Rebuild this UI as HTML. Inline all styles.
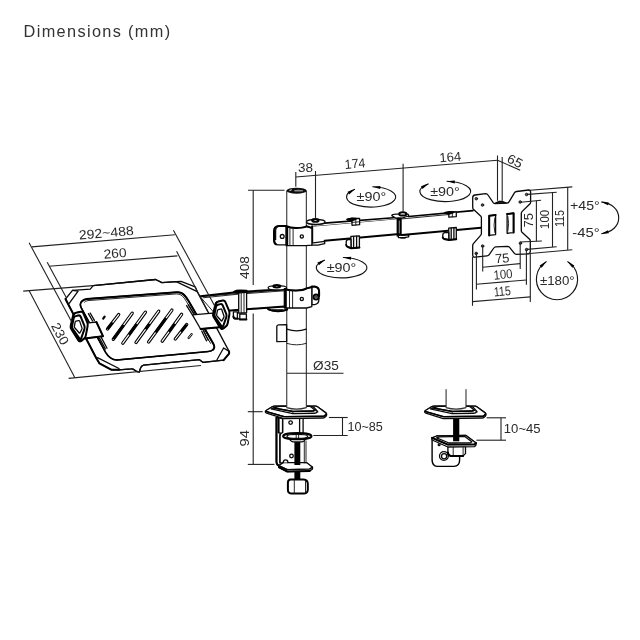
<!DOCTYPE html>
<html lang="en">
<head>
<meta charset="utf-8">
<title>Dimensions (mm)</title>
<style>
html,body{margin:0;padding:0;background:#fff;}
body{width:640px;height:640px;overflow:hidden;font-family:"Liberation Sans",sans-serif;}
svg{display:block;position:absolute;left:0;top:0;}
.d{stroke:#222;stroke-width:1.1;fill:none;}
.t{stroke:#111;stroke-width:.9;fill:none;stroke-linejoin:round;stroke-linecap:round;}
.m{stroke:#0a0a0a;stroke-width:1.3;fill:none;stroke-linejoin:round;stroke-linecap:round;}
.k{stroke:#000;stroke-width:2;fill:none;stroke-linejoin:round;stroke-linecap:round;}
.a{stroke:#151515;stroke-width:1.15;fill:none;}
.w{fill:#fff;}
.b{fill:#000;stroke:none;}
.tx{font-family:"Liberation Sans",sans-serif;fill:#2a2a2a;stroke:none;}
</style>
</head>
<body>
<svg width="640" height="640" viewBox="0 0 640 640" style="filter:grayscale(1)">
<text x="23.6" y="37" font-size="16.3" fill="#333" font-family="Liberation Sans, sans-serif" textLength="146.5" lengthAdjust="spacing">Dimensions (mm)</text>
<g id="clampL">
<path class="m w" d="M276.2,417.4 V462 Q276.4,465.2 279,465.6 L287.3,469.6 L309.6,469 L312.5,467.2 L306.6,463.1 H283.4 L279.9,462.6 V436 Q280.2,433.4 282.6,432.4 V418.6 Z" />
<path class="k" d="M276.6,417.8 V462 Q276.8,465 279,465.6" />
<path class="k" d="M278.6,418.2 V432.5" />
<path class="m" d="M279.9,432.5 V463" />
<path class="m" d="M282.6,418.8 V432.6" />
<path class="m w" d="M278.6,465.6 L283.2,462.6 H306.6 L312.5,467.2 L309.6,469.1 L287.3,469.7 Z" />
<path class="m w" d="M278.6,465.6 L287.3,469.7 L309.6,469.1 L312.5,467.2 V469 L309.6,471.2 L287.3,471.6 L278.6,467.4 Z" />
<path class="k" d="M279,467 L287.3,471.5 L309.6,471.1" />
<path class="m w" d="M283.2,462.6 Q283.4,459.9 285.6,459.9 Q287.8,459.9 288,462.6" />
<circle class="m w" cx="290.6" cy="422.6" r="1.8"/>
<circle class="m w" cx="291.5" cy="456" r="1.8"/>
<path class="m" d="M299.6,418.8 V432.6 M303.1,418.8 V432.6" />
<path class="t" d="M304.3,441 V463 M306,441 V463" />
<path class="b" d="M294.4,440.5 H300.3 V465 H294.4 Z" />
<path class="b" d="M294.4,471.4 H300.3 V480 H294.4 Z" />
<path class="m w" d="M289,437 Q289.4,441 293,441.9 H302 Q305.6,441 306,437 Z" />
<ellipse class="k w" cx="297.3" cy="436.2" rx="14.2" ry="3.1"/>
<ellipse class="m" cx="297.3" cy="436.4" rx="10.4" ry="2"/>
<path class="t" d="M296.2,434.6 V438.2 M298.6,434.6 V438.2" />
<path class="k w" d="M290.6,479.6 H303.6 Q307.8,480 307.8,484 V489.8 Q307.6,493.6 303.6,493.6 H291 Q287.9,493.4 287.9,489.6 V482.6 Q288,479.8 290.6,479.6 Z" />
<path class="t" d="M294.3,480 V493.4 M305.5,480.4 V493" />
<path class="m w" d="M266.22,410.56 Q265.20,411.20 265.30,412.00 L265.30,412.00 Q265.40,412.80 266.55,413.16 L283.15,418.34 Q284.30,418.70 285.50,418.68 L322.80,418.02 Q324.00,418.00 324.88,417.19 L325.72,416.41 Q326.60,415.60 326.70,414.60 L326.70,414.60 Q326.80,413.60 325.84,412.88 L317.86,406.92 Q316.90,406.20 315.70,406.20 L274.40,406.20 Q273.20,406.20 272.18,406.84 Z" />
<path class="m w" d="M266.74,411.55 Q265.20,411.10 266.56,410.26 L271.84,407.04 Q273.20,406.20 274.80,406.20 L315.30,406.20 Q316.90,406.20 318.18,407.16 L325.52,412.64 Q326.80,413.60 325.63,414.69 L325.17,415.11 Q324.00,416.20 322.40,416.22 L285.90,416.68 Q284.30,416.70 282.76,416.25 Z" />
<polyline class="k" style="stroke-width:1.5" points="265.60,411.40 284.30,416.70 324.00,416.20 326.40,414.00"/>
<path class="m w" d="M272.17,409.16 Q271.00,408.90 272.12,408.46 L275.48,407.14 Q276.60,406.70 277.80,406.70 L312.00,406.70 Q313.20,406.70 314.02,407.57 L317.18,410.93 Q318.00,411.80 316.94,412.37 L316.46,412.63 Q315.40,413.20 314.20,413.23 L294.10,413.67 Q292.90,413.70 291.73,413.44 Z" />
<path class="m w" d="M275.28,408.31 Q274.10,408.10 275.22,407.66 L277.28,406.84 Q278.40,406.40 279.60,406.40 L309.40,406.40 Q310.60,406.40 311.49,407.21 L314.11,409.59 Q315.00,410.40 314.00,410.70 L314.00,410.70 Q313.00,411.00 311.80,411.02 L294.10,411.38 Q292.90,411.40 291.72,411.19 Z" />
<polyline class="k" style="stroke-width:1.5" points="274.10,408.10 292.90,411.40 313.00,411.00 315.00,410.40"/>
<path class="t" d="M292.9,411.4 V413.7 M315,410.4 L318,411.8 M274.1,408.1 L271,408.9"/>
</g>
<g id="clampR">
<path class="k w" d="M432.1,438 V460.4 Q432.4,466 437,466.4 H454 Q459.4,466 459.6,460.4 V446 L447.9,444.2 Z" style="stroke-width:1.4"/>
<circle class="m w" cx="443.9" cy="456" r="4.4"/>
<circle class="m w" cx="444.1" cy="456.2" r="2.6"/>
<circle class="m" cx="439.1" cy="444.8" r="0.9"/>
<path class="m w" d="M447.9,446.4 H465.5 V453.6 L463.1,455.9 H450.6 Q448,455.4 447.9,452.6 Z" />
<path class="t" d="M453.2,446.6 V455.8 M463.1,446.6 V455.8" />
<path class="k" d="M447.9,452.4 Q448,455.6 450.8,456 H463.1" />
<path class="m w" d="M432.1,437.8 L436.7,436 L466,435.4 L476,443 V445 L474.6,446.6 L447.9,447 L432.1,440 Z" />
<path class="m w" d="M432.1,437.8 L436.7,436 L466,435.4 L476,443 L474.6,444.4 L447.9,444.6 Z" />
<path class="k" d="M432.1,437.8 L447.9,444.6 L474.6,444.4 L476,443" />
<path class="m" d="M436.6,437.8 L439.4,436.8 L464.8,436.4 L471.8,441.8 L470.6,442.8 L449,443 Z" />
<path class="b" d="M453.1,418.6 H459.3 V441.3 H453.1 Z" />
<path class="m w" d="M425.52,410.56 Q424.50,411.20 424.60,412.00 L424.60,412.00 Q424.70,412.80 425.85,413.16 L442.45,418.34 Q443.60,418.70 444.80,418.68 L482.10,418.02 Q483.30,418.00 484.18,417.19 L485.02,416.41 Q485.90,415.60 486.00,414.60 L486.00,414.60 Q486.10,413.60 485.14,412.88 L477.16,406.92 Q476.20,406.20 475.00,406.20 L433.70,406.20 Q432.50,406.20 431.48,406.84 Z" />
<path class="m w" d="M426.04,411.55 Q424.50,411.10 425.86,410.26 L431.14,407.04 Q432.50,406.20 434.10,406.20 L474.60,406.20 Q476.20,406.20 477.48,407.16 L484.82,412.64 Q486.10,413.60 484.93,414.69 L484.47,415.11 Q483.30,416.20 481.70,416.22 L445.20,416.68 Q443.60,416.70 442.06,416.25 Z" />
<polyline class="k" style="stroke-width:1.5" points="424.90,411.40 443.60,416.70 483.30,416.20 485.70,414.00"/>
<path class="m w" d="M431.47,409.16 Q430.30,408.90 431.42,408.46 L434.78,407.14 Q435.90,406.70 437.10,406.70 L471.30,406.70 Q472.50,406.70 473.32,407.57 L476.48,410.93 Q477.30,411.80 476.24,412.37 L475.76,412.63 Q474.70,413.20 473.50,413.23 L453.40,413.67 Q452.20,413.70 451.03,413.44 Z" />
<path class="m w" d="M434.58,408.31 Q433.40,408.10 434.52,407.66 L436.58,406.84 Q437.70,406.40 438.90,406.40 L468.70,406.40 Q469.90,406.40 470.79,407.21 L473.41,409.59 Q474.30,410.40 473.30,410.70 L473.30,410.70 Q472.30,411.00 471.10,411.02 L453.40,411.38 Q452.20,411.40 451.02,411.19 Z" />
<polyline class="k" style="stroke-width:1.5" points="433.40,408.10 452.20,411.40 472.30,411.00 474.30,410.40"/>
<path class="t" d="M452.2,411.4 V413.7 M474.3,410.4 L477.3,411.8 M433.40000000000003,408.1 L430.3,408.9"/>
<path class="w" d="M446.1,389.5 V407.6 Q456,410.6 466,407.6 V389.5" style="stroke:none"/>
<path class="m" d="M446.1,389.5 V407.6 Q456,410.6 466,407.6 V389.5" style="stroke:#333;stroke-width:1.1"/>
</g>
<g id="pole">
<path class="w" d="M286.75,190.8 V407.6 Q296.5,410.6 306.35,407.6 V190.8 Z" style="stroke:none"/>
<path class="m" d="M286.75,190.8 V407.6 Q296.5,410.6 306.35,407.6 V190.8" style="stroke:#333;stroke-width:1.1"/>
<ellipse cx="296.6" cy="190.7" rx="10" ry="3" fill="#0c0c0c"/>
<ellipse cx="298.6" cy="190.7" rx="4.6" ry="0.9" fill="#8a8a8a"/>
<ellipse cx="290.6" cy="190.1" rx="1.5" ry="0.6" fill="#bbb" transform="rotate(-20 290.6 190.1)"/>
</g>
<g id="pclip">
<path class="m w" d="M276.8,326.6 Q276.8,325 278.6,324.9 L286.6,324.6 V341.4 L276.8,341.6 Z" />
<path class="m" d="M286.9,329.2 Q296.5,332.4 306.2,329.2" />
<path class="t" d="M286.9,343.4 Q296.5,346.4 306.2,343.4" />
</g>
<g id="larm">
<ellipse class="m w" cx="277.6" cy="308.6" rx="9.8" ry="2.5"/>
<path class="k" d="M268.2,309.2 Q272,311.3 278,311.2 Q284,311.1 287.2,309.6" />
<path class="t" d="M272,309.6 H283" />
<path class="t w" d="M200.5,296.6 L284.4,289.6 V306.6 L227.8,310.7 L214,312 Z" />
<path class="k" d="M200.5,296.2 L238,292 L284.4,289.3" />
<path class="t" d="M203,297.8 L238,294.2 L284.4,290.8" />
<path class="k" d="M227.8,310.7 L284.4,306.5" />
<path class="m w" d="M238.7,291.7 L246.6,291.1 V312.6 L238.7,313.2 Z" />
<path class="k" d="M234,291.9 Q236,290.6 240,290.6 L246.6,290.7 L246.6,291.9 L238.7,292.5 Z" />
<path class="t" d="M241.2,292.3 V313 M244,292.1 V312.8" />
<path class="m w" d="M233.4,311.8 H237.4 V318.4 H235 Q233.4,318.2 233.4,316.4 Z" />
<path class="m w" d="M239.8,314 H246.4 V319.4 H239.8 Z" />
<path class="k" d="M233.4,316.4 Q233.5,318.6 235.6,318.7 H238 M239.8,319.5 H246.4" />
</g>
<g id="tray">
<path class="m w" d="M65.5,299 L72.5,290.3 L90.3,289.2 L93.1,285.6 L155.6,279.5 L161.9,282.6 L176.2,281.7 L197.2,291.6 L229.1,351.4 V353.6 L223.6,360.2 L202.8,362.3 L199.5,359.7 L143.6,365.1 Q141.2,365.6 140.4,368.4 L139.4,372 Q136,371.6 134.4,370 Q133,368.7 131.2,368.9 L119,369.8 H111.6 L99.4,363.3 L96.2,358 Z" />
<path class="k" d="M65.5,299 L96.2,358 L99.4,363.3 L111.6,369.8 L119,369.8" />
<path class="m" d="M93.1,285.6 L155.6,279.5 L161.9,282.6 L176.2,281.7" />
<path class="m" d="M72.5,290.3 L78.1,291.1 L69.2,303.3" />
<path class="m" d="M97.5,357.7 L119,368.5" />
<path class="m" d="M119,369.8 L131.2,368.9 Q133,368.7 134.4,370 Q136,371.6 139.4,372 L140.4,368.4 Q141.2,365.6 143.6,365.1 L199.5,359.7 L202.8,362.3 L223.6,360.2" />
<path class="m" d="M176.2,281.7 L181,281.4 L195.2,286.8 L197.2,291.6" />
<path class="m" d="M223.6,348 L217,359.8 M229.1,351.4 L223.6,348" />
<path class="k" d="M223.6,360.2 L229.1,353.6 V351.4" />
<path class="m w" d="M86.6,299 L177,292.2 Q181.4,292 184.2,295 Q186.6,297.6 188.6,301 L213.2,343.6 Q215.4,347.6 213.2,349.6 Q211.6,351.3 208,351.6 L117,360 Q113.6,360.2 110.4,357.8 Q107.6,355.8 105.6,352.4 L81,307.4 Q79.4,304 81.6,301.6 Q83.4,299.4 86.6,299 Z" />
<path class="k" d="M81.6,301.6 Q83.4,299.4 86.6,299 L177,292.2 Q181.4,292 184.2,295 Q186.6,297.6 188.6,301 L213.2,343.6 Q215.4,347.6 213.2,349.6" />
<path class="t" d="M84.4,302.2 Q85.4,300.8 88,300.6 L176.6,293.9 Q180.4,293.8 182.6,296.2 Q184.8,298.6 186.6,301.8 L210.6,343.4" />
<path class="k" d="M213.2,349.6 Q211.6,351.3 208,351.6 L117,360 Q113.6,360.2 110.4,357.8 Q107.6,355.8 105.6,352.4 L81,307.4 Q79.4,304 81.6,301.6" style="stroke-width:1.5"/>
<line x1="107.5" y1="329" x2="118.7" y2="314.6" stroke="#000" stroke-width="3.3" stroke-linecap="round"/>
<line x1="107.5" y1="329" x2="118.7" y2="314.6" stroke="#fff" stroke-width="1.2" stroke-linecap="round"/>
<line x1="107.50" y1="329.00" x2="112.54" y2="322.52" stroke="#000" stroke-width="2.6"/>
<line x1="113.3" y1="339.3" x2="132.2" y2="313.2" stroke="#000" stroke-width="3.3" stroke-linecap="round"/>
<line x1="113.3" y1="339.3" x2="132.2" y2="313.2" stroke="#fff" stroke-width="1.2" stroke-linecap="round"/>
<line x1="113.30" y1="339.30" x2="123.69" y2="324.94" stroke="#000" stroke-width="2.6"/>
<line x1="122.8" y1="343.2" x2="145.4" y2="312.2" stroke="#000" stroke-width="3.3" stroke-linecap="round"/>
<line x1="122.8" y1="343.2" x2="145.4" y2="312.2" stroke="#fff" stroke-width="1.2" stroke-linecap="round"/>
<line x1="128.90" y1="334.83" x2="136.81" y2="323.98" stroke="#000" stroke-width="2.6"/>
<line x1="136" y1="342.5" x2="158.7" y2="311.2" stroke="#000" stroke-width="3.3" stroke-linecap="round"/>
<line x1="136" y1="342.5" x2="158.7" y2="311.2" stroke="#fff" stroke-width="1.2" stroke-linecap="round"/>
<line x1="145.53" y1="329.35" x2="149.62" y2="323.72" stroke="#000" stroke-width="2.6"/>
<line x1="148.6" y1="342" x2="171.9" y2="310.1" stroke="#000" stroke-width="3.3" stroke-linecap="round"/>
<line x1="148.6" y1="342" x2="171.9" y2="310.1" stroke="#fff" stroke-width="1.2" stroke-linecap="round"/>
<line x1="155.59" y1="332.43" x2="166.07" y2="318.08" stroke="#000" stroke-width="2.6"/>
<line x1="162.2" y1="341.2" x2="181.6" y2="314.3" stroke="#000" stroke-width="3.3" stroke-linecap="round"/>
<line x1="162.2" y1="341.2" x2="181.6" y2="314.3" stroke="#fff" stroke-width="1.2" stroke-linecap="round"/>
<line x1="168.99" y1="331.78" x2="174.81" y2="323.72" stroke="#000" stroke-width="2.6"/>
<line x1="175.3" y1="339" x2="186.7" y2="324.5" stroke="#000" stroke-width="3.3" stroke-linecap="round"/>
<line x1="175.3" y1="339" x2="186.7" y2="324.5" stroke="#fff" stroke-width="1.2" stroke-linecap="round"/>
<line x1="181.00" y1="331.75" x2="186.70" y2="324.50" stroke="#000" stroke-width="2.6"/>
<line x1="103.2" y1="318.6" x2="104.6" y2="316.6" stroke="#000" stroke-width="2.2" stroke-linecap="round"/>
<line x1="188.6" y1="338" x2="191.6" y2="334.2" stroke="#000" stroke-width="2.2" stroke-linecap="round"/>
<line x1="188.6" y1="338" x2="191.6" y2="334.2" stroke="#fff" stroke-width="0.8" stroke-linecap="round"/>
<path class="m" d="M186.6,305.6 L192.6,315.2 M188.4,304.8 L194.4,314.4" />
<path class="m" d="M201.8,331.2 L206.4,340.8 M203.6,330.6 L208.2,340.2" />
<path class="m" d="M88.4,313.6 L92.6,321 M90.2,313 L94.4,320.4" />
<path class="m" d="M99.6,338.4 L105.4,349 M101.4,337.6 L107,348.2" />
<path class="m w" d="M192.4,314.8 L212.7,313.1 L219.2,327.3 L200.6,329 Z" />
<path class="k" d="M200.6,329 L219.2,327.3" />
<path class="m w" d="M86.4,323.1 L96.4,322 L103,336.2 L84.8,338.4 Z" />
<path class="k" d="M84.8,338.4 L103,336.2 L96.4,322" />
<path class="k w" d="M73.05,315.65 Q73.50,313.70 75.46,313.28 L79.94,312.32 Q81.90,311.90 82.68,313.74 L86.52,322.86 Q87.30,324.70 86.92,326.66 L85.08,336.14 Q84.70,338.10 83.11,339.32 L81.09,340.88 Q79.50,342.10 78.43,340.41 L71.37,329.19 Q70.30,327.50 70.75,325.55 Z" />
<path class="k w" d="M73.75,315.15 Q74.20,313.20 76.16,312.78 L80.64,311.82 Q82.60,311.40 83.38,313.24 L87.22,322.36 Q88.00,324.20 87.62,326.16 L85.78,335.64 Q85.40,337.60 83.81,338.82 L81.79,340.38 Q80.20,341.60 79.13,339.91 L72.07,328.69 Q71.00,327.00 71.45,325.05 Z" />
<path class="k" d="M73.65,318.37 Q74.00,316.60 75.74,316.14 L78.26,315.46 Q80.00,315.00 80.67,316.67 L84.33,325.73 Q85.00,327.40 84.41,329.10 L81.19,338.30 Q80.60,340.00 79.56,338.53 L72.84,329.07 Q71.80,327.60 72.15,325.83 Z" />
<path class="m" d="M75.15,322.19 Q75.30,321.40 76.08,321.21 L78.62,320.59 Q79.40,320.40 79.66,321.16 L81.94,327.84 Q82.20,328.60 81.82,329.30 L79.98,332.70 Q79.60,333.40 79.07,332.80 L74.73,327.80 Q74.20,327.20 74.35,326.41 Z" />
<path class="k w" d="M215.40,304.28 Q215.84,302.41 217.71,302.01 L222.02,301.08 Q223.90,300.68 224.65,302.45 L228.34,311.20 Q229.08,312.97 228.72,314.85 L226.95,323.95 Q226.59,325.83 225.07,327.00 L223.12,328.50 Q221.60,329.67 220.57,328.05 L213.79,317.28 Q212.76,315.66 213.20,313.79 Z" />
<path class="k w" d="M216.07,303.80 Q216.51,301.93 218.39,301.53 L222.69,300.60 Q224.57,300.20 225.32,301.97 L229.01,310.72 Q229.76,312.49 229.39,314.37 L227.63,323.47 Q227.26,325.35 225.74,326.52 L223.79,328.02 Q222.27,329.19 221.24,327.57 L214.46,316.80 Q213.44,315.18 213.87,313.31 Z" />
<path class="k" d="M215.98,306.89 Q216.32,305.19 217.99,304.75 L220.41,304.10 Q222.08,303.66 222.72,305.26 L226.23,313.96 Q226.88,315.56 226.31,317.19 L223.22,326.02 Q222.65,327.66 221.65,326.25 L215.20,317.16 Q214.20,315.75 214.54,314.06 Z" />
<path class="m" d="M217.42,310.55 Q217.56,309.80 218.31,309.62 L220.75,309.02 Q221.50,308.84 221.75,309.57 L223.94,315.99 Q224.19,316.71 223.82,317.39 L222.06,320.64 Q221.69,321.32 221.19,320.74 L217.01,315.95 Q216.51,315.37 216.65,314.61 Z" />
</g>
<g id="lcollar">
<path class="m w" d="M311.8,286.8 H314.6 Q318.9,287.4 318.9,291.6 V299.6 Q318.9,304 314.6,304.6 H311.8 Z" />
<path class="k" d="M311.8,286.6 H314.8 Q319.1,287.2 319.1,291.6 V296" />
<circle class="k w" cx="316.1" cy="296.9" r="2.5"/>
<circle class="t" cx="316.1" cy="296.9" r="0.9"/>
<ellipse class="m w" cx="277.3" cy="287.8" rx="9.2" ry="2.2"/>
<ellipse class="k w" cx="276.8" cy="286.2" rx="3.4" ry="1.2"/>
<path class="m w" d="M284.4,289.2 Q289,290.6 296,290.6 Q303,290.4 306.6,288.6 L311.8,287.2 V306.6 L306.6,308 H284.4 Z" />
<path class="k" d="M284.6,289 Q289,290.6 296,290.6 Q303,290.4 306.6,288.4 L311.8,287" />
<path class="k" d="M285.8,289.8 V307.6" />
<path class="t" d="M289.5,290.4 V308 M292.6,290.6 V308" />
<circle class="m w" cx="301.8" cy="298.9" r="1.6"/>
</g>
<g id="uarm">
<path class="w" d="M313.9,226.1 L396.6,218.8 V234.2 L324.7,240.8 L313.9,243 Z" style="stroke:none"/>
<path class="t" d="M313.9,226.1 L396.6,218.8" />
<path class="w" d="M324.5,223.2 L396.6,217.5 L396.6,218.8 L313.9,226.1 Z" style="stroke:none"/>
<path class="k" d="M324.5,223.2 L396.6,217.5" style="stroke-width:1.7"/>
<path class="k" d="M324.7,240.8 L396.6,234.2" />
<path class="k" d="M312.2,226.2 V243" />
<ellipse class="m w" cx="315.8" cy="221.9" rx="9.3" ry="2.6"/>
<ellipse class="k w" cx="315.4" cy="220.4" rx="3.2" ry="1.3"/>
<path class="m w" d="M311.6,243.2 L324.7,241.3 V243.6 L318,245.2 H311.6 Z" />
<path class="m w" d="M347,219.4 L351.6,218.4 L359.6,218.5 V224.7 L352,225.3 V220.6 Z" />
<path class="k" d="M347.4,219.4 L351.8,218.6 L356,218.8 L352.2,220.4 Z" />
<path class="t" d="M352,222.4 L359.6,221.8 M355.8,220 V224.9" />
<path class="m w" d="M350.9,236.4 L359.4,235.8 V247.6 L351.2,248.3 Z" />
<path class="m w" d="M350.9,239.5 H348.2 Q346.2,239.8 346.2,242 V245 Q346.4,246.6 348.5,247 L351,247.8 Z" />
<path class="m" d="M353.6,236.4 V248 M356.6,236.2 V247.8" />
<path class="k" d="M346.2,245 Q346.4,246.8 348.5,247.2 L351.2,248.3 L359.4,247.6" />
<path class="m w" d="M391.8,215.6 Q392,214.2 396,214.2 H408 Q409,215.2 408.6,216.2 L402,218.2 H396 Z" />
<ellipse class="k w" cx="402.8" cy="213.9" rx="3.6" ry="1.6"/>
<path class="b" d="M396.6,217.6 H401.8 V236.6 H396.6 Z" />
<path class="t" d="M399.3,221 V233" style="stroke:#fff;stroke-width:.6"/>
<path class="m w" d="M398.4,235.4 L408.7,234.6 V236.8 L404,237.6 H398.4 Z" />
<path class="b" d="M400.5,237.6 H405.6 V238.6 H400.5 Z" />
<path class="w" d="M401.9,218.9 L473,212.4 V227.8 L401.9,234.9 Z" style="stroke:none"/>
<path class="w" d="M408.7,216.5 L473,210.7 V212.4 L401.9,218.9 Z" style="stroke:none"/>
<path class="t" d="M401.9,218.9 L450,214.4" />
<path class="k" d="M408.7,216.5 L473,210.7" style="stroke-width:1.7"/>
<path class="k" d="M401.9,234.9 L481,227.7" />
<path class="m w" d="M445,212.8 L449.6,211.9 L456.3,212 V216.6 L448.8,217.2 V213.8 Z" />
<path class="k" d="M445.4,212.8 L449.8,212.1 L453.4,212.3 L449,213.7 Z" />
<path class="t" d="M452.3,213.4 V216.8" />
<path class="m w" d="M448.7,228.1 L456.3,227.5 V239.2 L448.9,239.8 Z" />
<path class="m w" d="M448.7,232.6 H445 Q442.8,232.9 442.8,235 V237.4 Q443,238.8 445,239 L448.8,239.6 Z" />
<path class="m" d="M451.2,228 V239.5 M453.9,227.8 V239.3" />
<path class="k" d="M442.8,237.4 Q443,239 445,239.2 L448.9,239.9 L456.3,239.2" />
</g>
<g id="ucollar" transform="translate(0 0.7)">
<path class="m w" d="M286.2,225.6 H278.6 Q274.4,226 274.4,230.5 V239.5 Q274.4,243.9 278.6,244.2 H286.2 Z" />
<path class="k" d="M286,225.4 H278.2 Q274,226 274,230.5 V239.5 Q274,242.6 276,243.6" />
<path class="m" d="M279.6,225.2 Q275.6,225.6 275.6,230 V239" />
<circle class="m w" cx="282.2" cy="235.7" r="1.9"/>
<path class="m w" d="M286.2,225.6 Q290,227.2 296,227.2 Q303,227.2 306.5,225.8 L311.9,227.4 V244.4 L306,245 H286.2 Z" />
<path class="k" d="M286.4,225.4 Q290,227.2 296,227.2 Q303,227.2 306.5,225.6 L311.9,227.2" />
<path class="k" d="M287.2,226.4 V244.4" />
<path class="t" d="M289.9,227 V244.8 M293.1,227.4 V244.8" />
<circle class="m w" cx="301.8" cy="235.7" r="1.6"/>
</g>
<g id="vesa">
<path class="m w" d="M472.7,197.8 Q472.7,195.3 475,195 L485.6,193.6 Q487.3,193.6 488,195 L493.2,202.6 Q494,203.7 495.4,203.6 L507,203 Q508.3,203 509,201.8 L514.4,192.8 Q515.2,191.7 516.6,191.5 L528.6,190 Q530.6,190 530.6,192 V202.2 Q530.6,203.2 529.8,204 L522,211.6 Q521.3,212.3 521.3,213.4 V230.4 Q521.3,231.5 522,232.2 L529.6,239.2 Q530.3,240 530.3,241 V251.6 Q530.3,253.6 528.4,253.8 L516.4,254.4 Q515,254.4 514.2,253.2 L509.6,247.4 Q508.8,246.3 507.4,246.3 L495.8,246.8 Q494.5,246.9 493.8,248 L489.2,254.6 Q488.4,255.8 487,255.9 L475,257.2 Q472.7,257.3 472.7,255 V245.6 Q472.7,244.4 473.4,243.6 L480.6,235.4 Q481.4,234.6 481.4,233.4 V217.8 Q481.4,216.7 480.6,215.9 L473.4,209.2 Q472.7,208.5 472.7,207.4 Z" />
<circle cx="476.3" cy="198.7" r="1.3" class="m" style="fill:#555;stroke-width:.8"/>
<circle cx="482.5" cy="205" r="1.3" class="m" style="fill:#555;stroke-width:.8"/>
<circle cx="526.6" cy="194.5" r="1.3" class="m" style="fill:#555;stroke-width:.8"/>
<circle cx="520.2" cy="202" r="1.3" class="m" style="fill:#555;stroke-width:.8"/>
<circle cx="482.6" cy="246.1" r="1.3" class="m" style="fill:#555;stroke-width:.8"/>
<circle cx="520.4" cy="243.2" r="1.3" class="m" style="fill:#555;stroke-width:.8"/>
<circle cx="526.6" cy="249.6" r="1.3" class="m" style="fill:#555;stroke-width:.8"/>
<circle cx="476.2" cy="253.4" r="1.3" class="m" style="fill:#555;stroke-width:.8"/>
<path class="m w" d="M489.2,215.8 L495.6,214.9 V234.6 L489.2,235.4 Z" />
<path class="m w" d="M507.1,214 L513.6,213.2 V232.6 L507.1,233.3 Z" />
<path class="k" d="M489.2,215.8 L495.6,214.9 M489.2,215.8 V235.4" />
<path class="k" d="M513.6,213.2 V232.6 M507.1,214 L513.6,213.2" />
<path class="t" d="M494.8,218 Q493.2,225 494.8,232.5" />
<path class="t" d="M507.9,216.5 Q509.4,223.5 507.9,231" />
<path class="m" d="M495.4,203.2 L498.8,201.5 L502.6,201.5 L505.6,202.9 Z" style="fill:#555"/>
</g>
<g id="dims-tray">
<line class="d" x1="29.1" y1="242.8" x2="71.5" y2="321.5"/>
<line class="d" x1="173.4" y1="230.2" x2="215" y2="306.5"/>
<line class="d" x1="31.9" y1="246.9" x2="174.9" y2="234.8"/>
<text class="tx" transform="translate(106.2 232.6) rotate(-4.8)" x="0" y="4.65" font-size="13.0" text-anchor="middle" textLength="55" lengthAdjust="spacingAndGlyphs">292~488</text>
<line class="d" x1="47.2" y1="262.2" x2="66.5" y2="298"/>
<line class="d" x1="176.6" y1="251.3" x2="207.5" y2="311"/>
<line class="d" x1="49" y1="266.2" x2="177.4" y2="255.9"/>
<text class="tx" transform="translate(115 253.1) rotate(-4.6)" x="0" y="4.65" font-size="13.0" text-anchor="middle" textLength="23" lengthAdjust="spacingAndGlyphs">260</text>
<line class="d" x1="23.2" y1="291.1" x2="93" y2="285.6"/>
<line class="d" x1="29.3" y1="291" x2="74.9" y2="377.8"/>
<line class="d" x1="68.6" y1="378.4" x2="201" y2="365.5"/>
<text class="tx" transform="translate(60.2 333.6) rotate(62)" x="0" y="4.65" font-size="13.0" text-anchor="middle" textLength="23" lengthAdjust="spacingAndGlyphs">230</text>
</g>
<g id="dims-pole">
<line class="d" x1="248" y1="190.3" x2="284.5" y2="190.3"/>
<line class="d" x1="253.2" y1="190.3" x2="253.2" y2="285"/>
<line class="d" x1="253.2" y1="313.6" x2="253.2" y2="464.4"/>
<line class="d" x1="247.8" y1="411.7" x2="262.7" y2="411.7"/>
<line class="d" x1="247.8" y1="464.4" x2="274.4" y2="464.4"/>
<text class="tx" transform="translate(244.8 267.5) rotate(-90)" x="0" y="4.65" font-size="13.0" text-anchor="middle" textLength="23" lengthAdjust="spacingAndGlyphs">408</text>
<text class="tx" transform="translate(244.5 438.2) rotate(-90)" x="0" y="4.65" font-size="13.0" text-anchor="middle" textLength="16.5" lengthAdjust="spacingAndGlyphs">94</text>
<line class="d" x1="287" y1="373.3" x2="343.5" y2="373.3"/>
<text class="tx" transform="translate(325.9 365.2) rotate(0)" x="0" y="4.65" font-size="13.0" text-anchor="middle" textLength="25.7" lengthAdjust="spacingAndGlyphs">Ø35</text>
<line class="d" x1="328.9" y1="417.5" x2="347.7" y2="417.5"/>
<line class="d" x1="313.3" y1="435.5" x2="347.7" y2="435.5"/>
<line class="d" x1="342.5" y1="417.5" x2="342.5" y2="435.5"/>
<text class="tx" transform="translate(365.1 425.9) rotate(0)" x="0" y="4.65" font-size="13.0" text-anchor="middle" textLength="35.4" lengthAdjust="spacingAndGlyphs">10~85</text>
<line class="d" x1="486.6" y1="417.8" x2="506" y2="417.8"/>
<line class="d" x1="476.4" y1="440.2" x2="506" y2="440.2"/>
<line class="d" x1="501" y1="417.8" x2="501" y2="440.2"/>
<text class="tx" transform="translate(522.2 427.9) rotate(0)" x="0" y="4.65" font-size="13.0" text-anchor="middle" textLength="36.8" lengthAdjust="spacingAndGlyphs">10~45</text>
</g>
<g id="dims-top">
<line class="d" x1="295.8" y1="171.9" x2="295.8" y2="186.7"/>
<line class="d" x1="315.5" y1="171" x2="315.5" y2="218.7"/>
<line class="d" x1="403.1" y1="163.7" x2="403.1" y2="211.7"/>
<line class="d" x1="497.5" y1="155.5" x2="497.5" y2="200.8"/>
<line class="d" x1="502.2" y1="157" x2="502.2" y2="200.8"/>
<line class="d" x1="295.8" y1="177" x2="497.5" y2="160.2"/>
<line class="d" x1="497.5" y1="160.2" x2="520.2" y2="170.3"/>
<text class="tx" transform="translate(305.6 167.6) rotate(0)" x="0" y="4.65" font-size="13.0" text-anchor="middle" textLength="15" lengthAdjust="spacingAndGlyphs">38</text>
<text class="tx" transform="translate(355 163.4) rotate(-4.8)" x="0" y="4.65" font-size="13.0" text-anchor="middle" textLength="20.8" lengthAdjust="spacingAndGlyphs">174</text>
<text class="tx" transform="translate(450.3 156.8) rotate(-4.8)" x="0" y="4.65" font-size="13.0" text-anchor="middle" textLength="21.8" lengthAdjust="spacingAndGlyphs">164</text>
<text class="tx" transform="translate(515.1 160.8) rotate(27)" x="0" y="4.65" font-size="13.0" text-anchor="middle" textLength="15.5" lengthAdjust="spacingAndGlyphs">65</text>
</g>
<g id="dims-vesa">
<line class="d" x1="527" y1="190.5" x2="572.3" y2="186.9"/>
<line class="d" x1="527.8" y1="194.4" x2="556.7" y2="192.3"/>
<line class="d" x1="520.8" y1="202.2" x2="541.1" y2="200.3"/>
<line class="d" x1="520" y1="242" x2="541.9" y2="241"/>
<line class="d" x1="527" y1="249.4" x2="556.7" y2="246.7"/>
<line class="d" x1="527" y1="253.7" x2="572.3" y2="249.8"/>
<line class="d" x1="536.4" y1="200.5" x2="536.4" y2="241.2"/>
<line class="d" x1="552.5" y1="192.4" x2="552.5" y2="247"/>
<line class="d" x1="567.7" y1="187.1" x2="567.7" y2="250.1"/>
<text class="tx" transform="translate(528.6 220.2) rotate(-90)" x="0" y="4.65" font-size="13.0" text-anchor="middle" textLength="14.5" lengthAdjust="spacingAndGlyphs">75</text>
<text class="tx" transform="translate(544.2 219.4) rotate(-90)" x="0" y="4.65" font-size="13.0" text-anchor="middle" textLength="19" lengthAdjust="spacingAndGlyphs">100</text>
<text class="tx" transform="translate(559 218.6) rotate(-90)" x="0" y="4.65" font-size="13.0" text-anchor="middle" textLength="17" lengthAdjust="spacingAndGlyphs">115</text>
<line class="d" x1="482.7" y1="246" x2="482.7" y2="271.4"/>
<line class="d" x1="520.2" y1="243" x2="520.2" y2="269"/>
<line class="d" x1="482.7" y1="267.2" x2="520.2" y2="263.6"/>
<line class="d" x1="476.4" y1="253" x2="476.4" y2="289.4"/>
<line class="d" x1="526.4" y1="250" x2="526.4" y2="284.7"/>
<line class="d" x1="476.4" y1="284.2" x2="526.4" y2="280"/>
<line class="d" x1="472.5" y1="257" x2="472.5" y2="305.8"/>
<line class="d" x1="530.3" y1="253" x2="530.3" y2="301.9"/>
<line class="d" x1="472.5" y1="301.6" x2="530.3" y2="296.9"/>
<text class="tx" transform="translate(502.2 258.1) rotate(-5)" x="0" y="4.65" font-size="13.0" text-anchor="middle" textLength="14.5" lengthAdjust="spacingAndGlyphs">75</text>
<text class="tx" transform="translate(503 274.2) rotate(-5)" x="0" y="4.65" font-size="13.0" text-anchor="middle" textLength="19" lengthAdjust="spacingAndGlyphs">100</text>
<text class="tx" transform="translate(502.2 291) rotate(-5)" x="0" y="4.65" font-size="13.0" text-anchor="middle" textLength="17" lengthAdjust="spacingAndGlyphs">115</text>
</g>
<g id="rot">
<path class="a" d="M372.39,186.71 A24.6,10.2 0 1 1 354.96,189.20" />
<polygon class="b" points="372.39,186.71 380.18,188.94 380.45,185.95"/>
<polygon class="b" points="354.96,189.20 347.54,191.78 349.05,194.38"/>
<text class="tx" transform="translate(371.4 196.3) rotate(0)" x="0" y="4.65" font-size="13.0" text-anchor="middle" textLength="29.6" lengthAdjust="spacingAndGlyphs">±90°</text>
<path class="a" d="M446.63,181.21 A25.4,10.2 0 1 1 428.64,183.70" />
<polygon class="b" points="446.63,181.21 454.68,183.44 454.95,180.45"/>
<polygon class="b" points="428.64,183.70 421.01,186.27 422.49,188.89"/>
<text class="tx" transform="translate(445 191.1) rotate(0)" x="0" y="4.65" font-size="13.0" text-anchor="middle" textLength="29.6" lengthAdjust="spacingAndGlyphs">±90°</text>
<path class="a" d="M342.92,257.51 A25.3,10.2 0 1 1 325.00,260.00" />
<polygon class="b" points="342.92,257.51 350.94,259.74 351.21,256.75"/>
<polygon class="b" points="325.00,260.00 317.40,262.57 318.88,265.18"/>
<text class="tx" transform="translate(341.5 267) rotate(0)" x="0" y="4.65" font-size="13.0" text-anchor="middle" textLength="29.6" lengthAdjust="spacingAndGlyphs">±90°</text>
<text class="tx" transform="translate(584.9 205.3) rotate(0)" x="0" y="4.65" font-size="13.0" text-anchor="middle" textLength="29.7" lengthAdjust="spacingAndGlyphs">+45°</text>
<text class="tx" transform="translate(586 232.5) rotate(0)" x="0" y="4.65" font-size="13.0" text-anchor="middle" textLength="27.4" lengthAdjust="spacingAndGlyphs">-45°</text>
<path class="a" d="M601.3,201.9 C613,203.6 618.7,210 618.7,217.8 C618.7,225.6 613,232 601.3,233.7" />
<polygon class="b" points="601.30,201.90 607.99,205.34 608.81,202.46"/>
<polygon class="b" points="601.30,233.70 608.81,233.14 607.99,230.26"/>
<path class="a" d="M567.46,261.45 A20.6,20.6 0 1 1 546.54,261.45" />
<polygon class="b" points="567.46,261.45 572.35,267.78 574.34,265.54"/>
<polygon class="b" points="546.54,261.45 539.66,265.54 541.65,267.78"/>
<text class="tx" transform="translate(557.3 280.4) rotate(0)" x="0" y="4.65" font-size="13.0" text-anchor="middle" textLength="34.7" lengthAdjust="spacingAndGlyphs">±180°</text>
</g>
</svg>
</body>
</html>
